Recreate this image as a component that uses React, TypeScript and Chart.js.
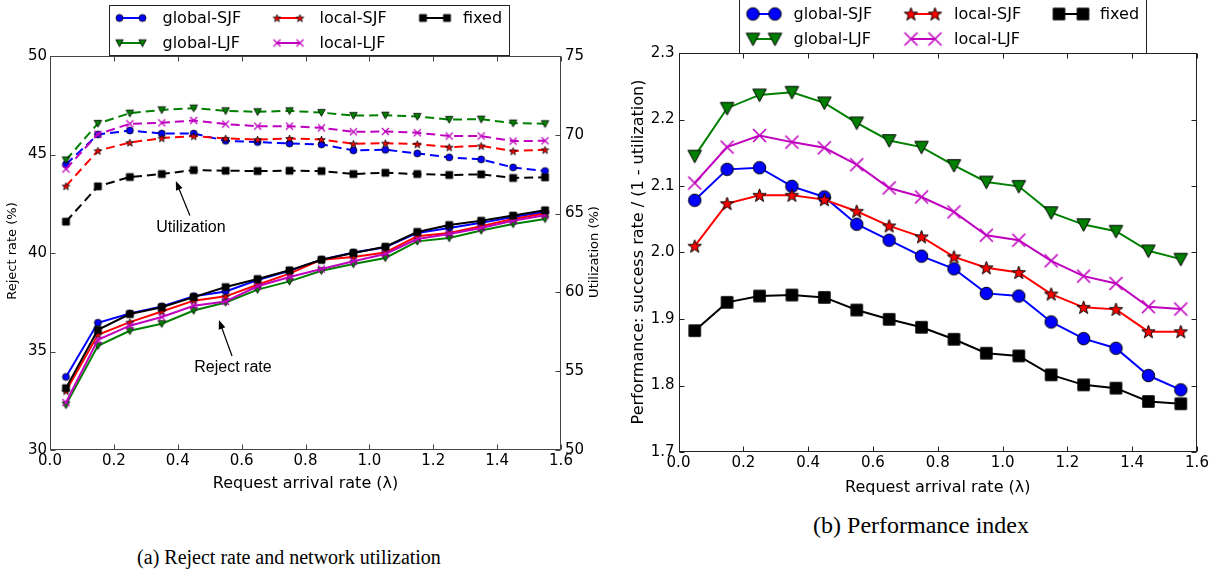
import React, { useEffect, useRef } from "react";
import { Chart, registerables } from "chart.js";

Chart.register(...registerables);

// ---------------- DATA ----------------
const arrivalRates = [0.05, 0.15, 0.25, 0.35, 0.45, 0.55, 0.65, 0.75, 0.85, 0.95, 1.05, 1.15, 1.25, 1.35, 1.45, 1.55];

const seriesNames = ["global-SJF", "global-LJF", "local-SJF", "local-LJF", "fixed"];

// (a) Reject rate (%) - left axis
const rejectGlobalSJF = [33.71, 36.46, 36.93, 37.29, 37.81, 38.05, 38.63, 39.10, 39.66, 40.03, 40.29, 41.02, 41.27, 41.53, 41.83, 42.08];
const rejectGlobalLJF = [32.29, 35.29, 36.05, 36.41, 37.08, 37.49, 38.14, 38.56, 39.10, 39.44, 39.75, 40.59, 40.76, 41.14, 41.47, 41.73];
const rejectLocalSJF = [33.0, 35.85, 36.49, 37.03, 37.58, 37.80, 38.39, 38.95, 39.66, 39.80, 40.03, 40.85, 41.02, 41.36, 41.73, 42.0];
const rejectLocalLJF = [32.41, 35.59, 36.31, 36.75, 37.32, 37.54, 38.31, 38.78, 39.19, 39.58, 39.95, 40.71, 40.97, 41.27, 41.64, 41.92];
const rejectFixed = [33.14, 36.10, 36.90, 37.25, 37.76, 38.27, 38.68, 39.12, 39.66, 40.0, 40.32, 41.07, 41.42, 41.64, 41.90, 42.17];

// (a) Utilization (%) - right axis
const utilGlobalSJF = [68.12, 70.02, 70.27, 70.08, 70.08, 69.62, 69.54, 69.45, 69.39, 69.01, 69.05, 68.82, 68.57, 68.44, 67.93, 67.70];
const utilGlobalLJF = [68.40, 70.72, 71.37, 71.58, 71.69, 71.52, 71.46, 71.52, 71.41, 71.22, 71.24, 71.16, 70.97, 70.99, 70.74, 70.70];
const utilLocalSJF = [66.75, 68.99, 69.51, 69.79, 69.92, 69.77, 69.70, 69.77, 69.70, 69.43, 69.47, 69.41, 69.22, 69.30, 68.97, 69.05];
const utilLocalLJF = [67.83, 70.04, 70.70, 70.76, 70.91, 70.68, 70.55, 70.55, 70.44, 70.19, 70.21, 70.13, 69.92, 69.92, 69.60, 69.62];
const utilFixed = [64.49, 66.73, 67.32, 67.51, 67.76, 67.72, 67.70, 67.72, 67.70, 67.51, 67.59, 67.51, 67.45, 67.49, 67.26, 67.30];

// (b) Performance index
const perfGlobalSJF = [2.0785, 2.125, 2.1275, 2.0995, 2.0835, 2.0425, 2.0185, 1.9945, 1.9755, 1.9385, 1.9345, 1.8955, 1.8705, 1.856, 1.815, 1.7935];
const perfGlobalLJF = [2.145, 2.217, 2.237, 2.241, 2.225, 2.195, 2.1685, 2.1585, 2.131, 2.106, 2.0995, 2.06, 2.042, 2.032, 2.0025, 1.99];
const perfLocalSJF = [2.0095, 2.0735, 2.086, 2.086, 2.0795, 2.062, 2.040, 2.0235, 1.9935, 1.977, 1.970, 1.9375, 1.9175, 1.9145, 1.881, 1.881];
const perfLocalLJF = [2.1045, 2.1585, 2.176, 2.166, 2.1575, 2.132, 2.097, 2.0835, 2.061, 2.026, 2.0185, 1.9875, 1.9645, 1.9535, 1.9185, 1.915];
const perfFixed = [1.8825, 1.925, 1.9345, 1.936, 1.9325, 1.9135, 1.8995, 1.8875, 1.8695, 1.8485, 1.8445, 1.816, 1.801, 1.796, 1.776, 1.7725];

const rejectSeries = [rejectGlobalSJF, rejectGlobalLJF, rejectLocalSJF, rejectLocalLJF, rejectFixed];
const utilSeries = [utilGlobalSJF, utilGlobalLJF, utilLocalSJF, utilLocalLJF, utilFixed];
const perfSeries = [perfGlobalSJF, perfGlobalLJF, perfLocalSJF, perfLocalLJF, perfFixed];

// ---------------- STYLES ----------------
const seriesColors = ["#0000ff", "#008000", "#ff0000", "#bf00bf", "#000000"];
type MarkerKind = "circle" | "triDown" | "star" | "x" | "square";
const seriesMarkers: MarkerKind[] = ["circle", "triDown", "star", "x", "square"];
const smallSizes = [7, 7.5, 8, 7, 7];
const bigSizes = [12.5, 13.5, 14, 13, 11.5];

const SANS = "'DejaVu Sans', 'Bitstream Vera Sans', sans-serif";
const tickFont = { family: SANS, size: 15 };

function makeMarker(kind: MarkerKind, size: number, color: string, edge: number): HTMLCanvasElement {
  let dim = Math.ceil(size + 4);
  if (dim % 2 === 0) dim += 1;
  const c = document.createElement("canvas");
  c.width = dim;
  c.height = dim;
  const ctx = c.getContext("2d")!;
  const cx = dim / 2;
  const cy = dim / 2;
  const r = size / 2;
  ctx.fillStyle = color;
  ctx.strokeStyle = "#000";
  ctx.lineWidth = edge;
  ctx.beginPath();
  if (kind === "circle") {
    ctx.arc(cx, cy, r, 0, Math.PI * 2);
  } else if (kind === "square") {
    ctx.rect(cx - r, cy - r, 2 * r, 2 * r);
  } else if (kind === "triDown") {
    ctx.moveTo(cx - r, cy - r * 0.85);
    ctx.lineTo(cx + r, cy - r * 0.85);
    ctx.lineTo(cx, cy + r);
    ctx.closePath();
  } else if (kind === "star") {
    for (let i = 0; i < 10; i++) {
      const ang = -Math.PI / 2 + (i * Math.PI) / 5;
      const rr = i % 2 === 0 ? r : r * 0.4;
      const px = cx + rr * Math.cos(ang);
      const py = cy + 0.5 + rr * Math.sin(ang);
      if (i === 0) ctx.moveTo(px, py);
      else ctx.lineTo(px, py);
    }
    ctx.closePath();
  } else if (kind === "x") {
    ctx.moveTo(cx - r, cy - r);
    ctx.lineTo(cx + r, cy + r);
    ctx.moveTo(cx + r, cy - r);
    ctx.lineTo(cx - r, cy + r);
    ctx.strokeStyle = color;
    ctx.lineWidth = edge * 1.6;
    ctx.stroke();
    return c;
  }
  ctx.fill();
  if (edge > 0) ctx.stroke();
  return c;
}

// ---------------- DECOR PLUGIN ----------------
const decorPlugin = {
  id: "decor",
  afterDraw(chart: any) {
    const o = chart.options.plugins.decor;
    if (!o) return;
    const ctx: CanvasRenderingContext2D = chart.ctx;
    const a = chart.chartArea;
    const L = 5;
    ctx.save();
    // spines
    ctx.strokeStyle = o.spineColor;
    ctx.lineWidth = 1;
    const l = Math.round(a.left) + 0.5;
    const r = Math.round(a.right) - 0.5;
    const t = Math.round(a.top) + 0.5;
    const b = Math.round(a.bottom) - 0.5;
    ctx.strokeRect(l, t, r - l, b - t);
    // inward ticks
    ctx.beginPath();
    const xs = chart.scales.x;
    for (const tk of xs.ticks) {
      const px = Math.round(xs.getPixelForValue(tk.value)) + 0.5;
      ctx.moveTo(px, b);
      ctx.lineTo(px, b - L);
      ctx.moveTo(px, t);
      ctx.lineTo(px, t + L);
    }
    const ys = chart.scales.y;
    for (const tk of ys.ticks) {
      const py = Math.round(ys.getPixelForValue(tk.value)) + 0.5;
      ctx.moveTo(l, py);
      ctx.lineTo(l + L, py);
    }
    const yr = chart.scales[o.rightScale];
    for (const tk of yr.ticks) {
      const py = Math.round(yr.getPixelForValue(tk.value)) + 0.5;
      ctx.moveTo(r, py);
      ctx.lineTo(r - L, py);
    }
    ctx.stroke();

    // axis titles
    ctx.fillStyle = "#000";
    ctx.textAlign = "center";
    ctx.textBaseline = "middle";
    for (const tt of o.titles) {
      ctx.save();
      ctx.translate(tt.x, tt.y);
      if (tt.rot) ctx.rotate(tt.rot);
      ctx.font = tt.font;
      ctx.fillText(tt.text, 0, 0);
      ctx.restore();
    }

    // annotations with arrows
    for (const an of o.annotations || []) {
      const sy = chart.scales[an.scale];
      const tx = xs.getPixelForValue(an.textAt[0]);
      const ty = sy.getPixelForValue(an.textAt[1]);
      ctx.font = an.font;
      ctx.fillText(an.text, tx, ty);
      const x1 = xs.getPixelForValue(an.tail[0]);
      const y1 = sy.getPixelForValue(an.tail[1]);
      const x2 = xs.getPixelForValue(an.tip[0]);
      const y2 = sy.getPixelForValue(an.tip[1]);
      const ang = Math.atan2(y2 - y1, x2 - x1);
      const hl = 9;
      const hw = 3.5;
      ctx.strokeStyle = "#000";
      ctx.lineWidth = 1.2;
      ctx.beginPath();
      ctx.moveTo(x1, y1);
      ctx.lineTo(x2 - Math.cos(ang) * hl * 0.8, y2 - Math.sin(ang) * hl * 0.8);
      ctx.stroke();
      ctx.beginPath();
      ctx.moveTo(x2, y2);
      ctx.lineTo(x2 - Math.cos(ang) * hl - Math.sin(ang) * hw, y2 - Math.sin(ang) * hl + Math.cos(ang) * hw);
      ctx.lineTo(x2 - Math.cos(ang) * hl + Math.sin(ang) * hw, y2 - Math.sin(ang) * hl - Math.cos(ang) * hw);
      ctx.closePath();
      ctx.fillStyle = "#000";
      ctx.fill();
    }

    // legend
    const lg = o.legend;
    if (lg) {
      ctx.fillStyle = "#fff";
      ctx.fillRect(lg.x, lg.y, lg.w, lg.h);
      ctx.strokeStyle = "#222";
      ctx.lineWidth = 1;
      ctx.strokeRect(lg.x + 0.5, lg.y + 0.5, lg.w - 1, lg.h - 1);
      ctx.font = lg.font;
      ctx.textAlign = "left";
      ctx.textBaseline = "middle";
      for (const en of lg.entries) {
        const [m1, m2, txt] = lg.cols[en.col];
        const yy = lg.rows[en.row];
        ctx.strokeStyle = en.color;
        ctx.lineWidth = 2;
        ctx.beginPath();
        ctx.moveTo(m1, yy);
        ctx.lineTo(m2, yy);
        ctx.stroke();
        const mk: HTMLCanvasElement = en.marker;
        ctx.drawImage(mk, m1 - mk.width / 2, yy - mk.height / 2);
        ctx.drawImage(mk, m2 - mk.width / 2, yy - mk.height / 2);
        ctx.fillStyle = "#000";
        ctx.fillText(en.label, txt, yy + 1);
      }
    }
    ctx.restore();
  },
};

function xScale(height: number) {
  return {
    type: "linear",
    min: 0,
    max: 1.6,
    afterFit: (s: any) => {
      s.height = height;
    },
    ticks: {
      stepSize: 0.2,
      font: tickFont,
      color: "#000",
      padding: 2,
      maxRotation: 0,
      autoSkip: false,
      callback: (v: any) => Number(v).toFixed(1),
    },
    grid: { display: false, drawTicks: false },
    border: { display: false },
  };
}

function yScale(position: string, min: number, max: number, step: number, width: number, digits: number, pad: number, show = true) {
  return {
    type: "linear",
    position,
    min,
    max,
    afterFit: (s: any) => {
      s.width = width;
    },
    ticks: {
      display: show,
      stepSize: step,
      font: tickFont,
      color: "#000",
      padding: pad,
      callback: (v: any) => Number(v).toFixed(digits),
    },
    grid: { display: false, drawTicks: false },
    border: { display: false },
  };
}

function makeDataset(label: string, values: number[], idx: number, markers: HTMLCanvasElement[], axis: string, dash: number[], width: number, order: number) {
  return {
    label,
    data: arrivalRates.map((x, i) => ({ x, y: values[i] })),
    borderColor: seriesColors[idx],
    backgroundColor: seriesColors[idx],
    borderWidth: width,
    borderDash: dash,
    pointStyle: markers[idx],
    pointRadius: 5,
    pointHoverRadius: 5,
    yAxisID: axis,
    order,
    tension: 0,
    fill: false,
  };
}

export default function App() {
  const leftRef = useRef<HTMLCanvasElement | null>(null);
  const rightRef = useRef<HTMLCanvasElement | null>(null);

  useEffect(() => {
    const smallMarkers = seriesMarkers.map((k, i) => makeMarker(k, smallSizes[i], seriesColors[i], 0.8));
    const bigMarkers = seriesMarkers.map((k, i) => makeMarker(k, bigSizes[i], seriesColors[i], 1));

    const legendEntries = (markers: HTMLCanvasElement[]) =>
      seriesNames.map((name, i) => ({
        label: name,
        color: seriesColors[i],
        marker: markers[i],
        col: i === 4 ? 2 : Math.floor(i / 2) === 0 ? 0 : 1,
        row: i === 4 ? 0 : i % 2,
      }));
    // legend column/row assignment: col0 = global, col1 = local, col2 = fixed
    const leftEntries = legendEntries(smallMarkers).map((e, i) => ({ ...e, col: i === 4 ? 2 : i < 2 ? 0 : 1 }));
    const rightEntries = legendEntries(bigMarkers).map((e, i) => ({ ...e, col: i === 4 ? 2 : i < 2 ? 0 : 1 }));

    // left chart datasets
    const leftDatasets: any[] = [];
    seriesNames.forEach((n, i) => {
      leftDatasets.push(makeDataset(n + " reject", rejectSeries[i], i, smallMarkers, "y", [], 2, 20 - i));
    });
    seriesNames.forEach((n, i) => {
      leftDatasets.push(makeDataset(n + " util", utilSeries[i], i, smallMarkers, "y2", [9, 5], 2, 10 - i));
    });

    const left = new Chart(leftRef.current!, {
      type: "line",
      data: { datasets: leftDatasets },
      options: {
        responsive: false,
        animation: false,
        events: [],
        layout: { padding: { top: 56, left: 0, right: 0, bottom: 0 } },
        scales: {
          x: xScale(60),
          y: yScale("left", 30, 50, 5, 50, 0, 3),
          y2: yScale("right", 50, 75, 5, 54, 0, 4),
        } as any,
        plugins: {
          legend: { display: false },
          tooltip: { enabled: false },
          decor: {
            spineColor: "#444",
            rightScale: "y2",
            titles: [
              { text: "Request arrival rate (\u03bb)", x: 305.5, y: 484, font: `16px ${SANS}` },
              { text: "Reject rate (%)", x: 13, y: 251, rot: -Math.PI / 2, font: `13px ${SANS}` },
              { text: "Utilization (%)", x: 595, y: 252, rot: -Math.PI / 2, font: `13px ${SANS}` },
            ],
            annotations: [
              { text: "Utilization", scale: "y", textAt: [0.441, 41.27], tail: [0.438, 41.9], tip: [0.394, 43.65], font: "16px 'Liberation Sans', Arial, sans-serif" },
              { text: "Reject rate", scale: "y", textAt: [0.573, 34.16], tail: [0.57, 34.77], tip: [0.529, 36.6], font: "16px 'Liberation Sans', Arial, sans-serif" },
            ],
            legend: {
              x: 109,
              y: 5,
              w: 401,
              h: 51,
              font: `16px ${SANS}`,
              rows: [18, 43],
              cols: [
                [119.5, 142.5, 162.5],
                [277, 300, 319.5],
                [423, 447, 463],
              ],
              entries: leftEntries,
            },
          },
        } as any,
      },
      plugins: [decorPlugin],
    });

    // right chart datasets
    const rightDatasets = seriesNames.map((n, i) => makeDataset(n, perfSeries[i], i, bigMarkers, "y", [], 2, 10 - i));
    const right = new Chart(rightRef.current!, {
      type: "line",
      data: { datasets: rightDatasets },
      options: {
        responsive: false,
        animation: false,
        events: [],
        layout: { padding: { top: 53, left: 0, right: 24, bottom: 0 } },
        scales: {
          x: xScale(58),
          y: yScale("left", 1.7, 2.3, 0.1, 63.5, 1, 4),
        } as any,
        plugins: {
          legend: { display: false },
          tooltip: { enabled: false },
          decor: {
            spineColor: "#222",
            rightScale: "y",
            titles: [
              { text: "Request arrival rate (\u03bb)", x: 322.75, y: 488, font: `16px ${SANS}` },
              { text: "Performance: success rate / (1 - utilization)", x: 24, y: 252, rot: -Math.PI / 2, font: `16px ${SANS}` },
            ],
            annotations: [],
            legend: {
              x: 124,
              y: -2,
              w: 408,
              h: 56,
              font: `16px ${SANS}`,
              rows: [14, 39],
              cols: [
                [138, 160, 178.5],
                [296, 320, 339],
                [444, 468, 485],
              ],
              entries: rightEntries,
            },
          },
        } as any,
      },
      plugins: [decorPlugin],
    });

    return () => {
      left.destroy();
      right.destroy();
    };
  }, []);

  return (
    <div style={{ position: "fixed", left: 0, top: 0, width: 1221, height: 574, background: "#fff", overflow: "hidden" }}>
      <canvas ref={leftRef} width={615} height={510} style={{ position: "absolute", left: 0, top: 0 }} />
      <canvas ref={rightRef} width={606} height={510} style={{ position: "absolute", left: 615, top: 0 }} />
      <div
        style={{
          position: "absolute",
          left: 0,
          top: 545,
          width: 578,
          textAlign: "center",
          fontFamily: "'Liberation Serif', 'Times New Roman', serif",
          fontSize: 20,
          lineHeight: "24px",
          color: "#000",
        }}
      >
        (a) Reject rate and network utilization
      </div>
      <div
        style={{
          position: "absolute",
          left: 621,
          top: 511,
          width: 600,
          textAlign: "center",
          fontFamily: "'Liberation Serif', 'Times New Roman', serif",
          fontSize: 24,
          lineHeight: "28px",
          color: "#000",
        }}
      >
        (b) Performance index
      </div>
    </div>
  );
}
